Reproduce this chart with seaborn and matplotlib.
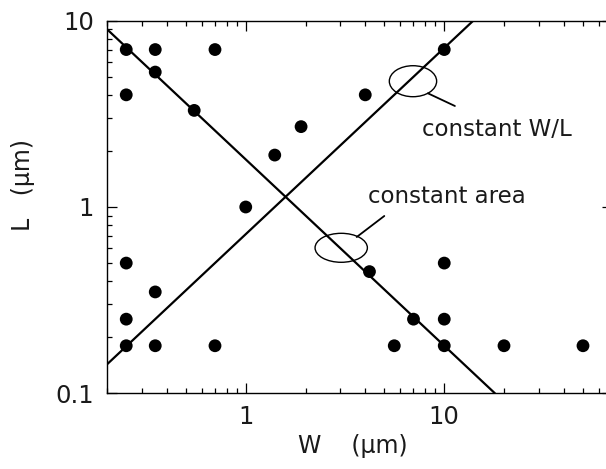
import matplotlib
matplotlib.use("Agg")
import matplotlib.pyplot as plt
import seaborn as sns
import pandas as pd
from matplotlib.patches import Ellipse
from matplotlib.ticker import LogLocator, FixedLocator, FixedFormatter, NullFormatter

# ---- data ----
W_points = [0.25, 0.35, 0.7, 0.35, 0.25, 0.55, 1.4, 1.0, 1.9, 4.0, 10.0,
            0.25, 0.35, 0.25, 0.25, 0.35, 0.7, 10.0, 4.2, 7.0, 10.0, 5.6, 10.0, 20.0, 50.0]
L_points = [7.0, 7.0, 7.0, 5.3, 4.0, 3.3, 1.9, 1.0, 2.7, 4.0, 7.0,
            0.5, 0.35, 0.25, 0.18, 0.18, 0.18, 0.5, 0.45, 0.25, 0.25, 0.18, 0.18, 0.18, 0.18]

# constant area line (W*L ~ 1.8) and constant W/L line (W/L ~ 1.4)
area_W = [0.2, 18.0]
area_L = [9.0, 0.1]
ratio_W = [0.2, 14.0]
ratio_L = [0.143, 10.0]

x_ticks = [1, 10]
x_ticklabels = ["1", "10"]
y_ticks = [0.1, 1, 10]
y_ticklabels = ["0.1", "1", "10"]

label_ratio = "constant W/L"
label_area = "constant area"
x_label = "W    (μm)"
y_label = "L   (μm)"

# ---- figure ----
sns.set_style("white")
plt.rcParams["font.family"] = ["DejaVu Sans"]

fig = plt.figure(figsize=(6.06, 4.69), dpi=100)
ax = fig.add_axes([107 / 606, 1 - 393.3 / 469, 505 / 606, 372.6 / 469])

pts = pd.DataFrame({"W": W_points, "L": L_points})
sns.scatterplot(data=pts, x="W", y="L", ax=ax, s=85, color="black",
                edgecolor="none", linewidth=0, zorder=3)

sns.lineplot(x=area_W, y=area_L, ax=ax, color="black", lw=1.6, sort=False, zorder=2)
sns.lineplot(x=ratio_W, y=ratio_L, ax=ax, color="black", lw=1.6, sort=False, zorder=2)

ax.set_xscale("log")
ax.set_yscale("log")
ax.set_xlim(0.2, 70)
ax.set_ylim(0.1, 10)

ax.xaxis.set_major_locator(FixedLocator(x_ticks))
ax.xaxis.set_major_formatter(FixedFormatter(x_ticklabels))
ax.yaxis.set_major_locator(FixedLocator(y_ticks))
ax.yaxis.set_major_formatter(FixedFormatter(y_ticklabels))
ax.xaxis.set_minor_locator(LogLocator(base=10, subs=range(2, 10)))
ax.yaxis.set_minor_locator(LogLocator(base=10, subs=range(2, 10)))
ax.xaxis.set_minor_formatter(NullFormatter())
ax.yaxis.set_minor_formatter(NullFormatter())

for s in ax.spines.values():
    s.set_visible(True)
    s.set_color("black")
    s.set_linewidth(1.0)

ax.tick_params(which="both", direction="in", top=True, right=True,
               bottom=True, left=True, color="black", width=0.9)
ax.tick_params(which="major", length=7.2, labelsize=17.5, labelcolor="#1a1a1a")
ax.tick_params(which="minor", length=3.6)
ax.tick_params(axis="x", which="major", pad=8.5)
ax.tick_params(axis="y", which="major", pad=9.5)

ax.set_xlabel(x_label, fontsize=17, color="#1a1a1a")
ax.set_ylabel(y_label, fontsize=17, color="#1a1a1a")
ax.xaxis.set_label_coords(0.487, -0.108)
ax.yaxis.label.set_verticalalignment("center")
ax.yaxis.set_label_coords(-0.166, 0.559)

# annotations
ax.add_patch(Ellipse((0.6059, 0.8376), 0.0937, 0.0832, transform=ax.transAxes,
                     fill=False, edgecolor="black", lw=1.0, zorder=4))
ax.plot([0.6354, 0.6889], [0.8052, 0.7711], transform=ax.transAxes,
        color="black", lw=1.3, zorder=4)
ax.text(0.6234, 0.6914, label_ratio, transform=ax.transAxes, fontsize=16.5,
        ha="left", va="baseline", color="#1a1a1a")

ax.add_patch(Ellipse((0.4638, 0.3905), 0.1036, 0.0778, transform=ax.transAxes,
                     fill=False, edgecolor="black", lw=1.0, zorder=4))
ax.plot([0.4945, 0.5491], [0.4195, 0.4759], transform=ax.transAxes,
        color="black", lw=1.3, zorder=4)
ax.text(0.5178, 0.5099, label_area, transform=ax.transAxes, fontsize=16.5,
        ha="left", va="baseline", color="#1a1a1a")

fig.savefig("out.png", dpi=100)
